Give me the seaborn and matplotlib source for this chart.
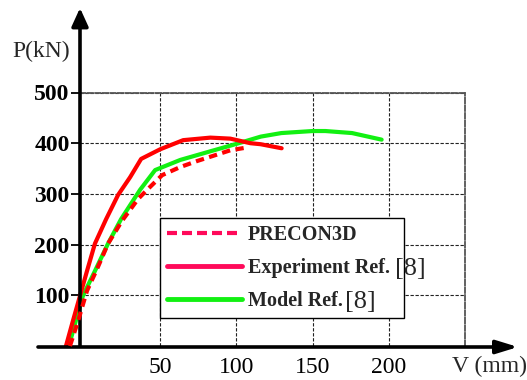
import numpy as np
import pandas as pd
import matplotlib
matplotlib.use("Agg")
import matplotlib.pyplot as plt
import seaborn as sns
from matplotlib.lines import Line2D

# ---- data ----
precon_v = [-9.2, -3.8, 2.0, 8.6, 15.8, 25.0, 35.5, 42.1, 51.3, 63.2, 74.4, 96.0, 107.9]
precon_p = [0, 50, 109, 152, 202, 247, 290, 310, 337, 353, 365, 386, 392]

exp_v = [-11.8, -7.2, -2.6, 2.0, 7.2, 14.5, 22.4, 30.3, 37.5, 50.0, 65.1, 82.9, 96.0, 109.2, 115.9, 129.7]
exp_p = [0, 50, 99, 148, 202, 250, 298, 333, 369, 388, 406, 411, 409, 400, 398, 390]

model_v = [-9.9, -5.3, -0.7, 7.2, 15.8, 24.3, 36.8, 46.7, 63.2, 82.9, 99.3, 116.0, 129.5, 150.0, 158.4, 175.9, 195.3]
model_p = [0, 50, 99, 148, 202, 250, 308, 347, 367, 384, 398, 413, 420, 424, 424, 420, 407]

x_ticks = [50, 100, 150, 200]
y_ticks = [100, 200, 300, 400, 500]
labels = ["PRECON3D", "Experiment Ref.", "Model Ref."]
ref_tag = "[8]"

sns.set_style("white")
plt.rcParams["font.family"] = ["Liberation Serif", "DejaVu Serif"]

RED = "#ff0000"
PINK = "#ff0a5a"
GREEN = "#12f012"

W, H = 527, 380
fig = plt.figure(figsize=(W / 100, H / 100), dpi=100)
ax = fig.add_axes([80 / W, 34 / H, 385 / W, 253.5 / H])

df_pre = pd.DataFrame({"V": precon_v, "P": precon_p})
df_exp = pd.DataFrame({"V": exp_v, "P": exp_p})
df_mod = pd.DataFrame({"V": model_v, "P": model_p})

common = dict(sort=False, estimator=None, ax=ax, lw=3.0, clip_on=False,
              legend=False, solid_joinstyle="round", dash_joinstyle="round")
sns.lineplot(data=df_mod, x="V", y="P", color=GREEN, zorder=3, **common)
sns.lineplot(data=df_exp, x="V", y="P", color=RED, zorder=3, **common)
sns.lineplot(data=df_pre, x="V", y="P", color=RED, linestyle=(0, (2.0, 1.3)),
             zorder=4, **common)

ax.set_xlim(-2.6, 250)
ax.set_ylim(0, 500)
ax.set_xlabel("")
ax.set_ylabel("")
ax.set_xticks(x_ticks)
ax.set_xticklabels([str(t) for t in x_ticks])
ax.set_yticks(y_ticks)
ax.set_yticklabels([str(t) for t in y_ticks], fontweight="bold")

ax.grid(True, color="#222222", linestyle=(0, (3, 1.5)), linewidth=0.8)
ax.set_axisbelow(True)
for s in ["left", "bottom"]:
    ax.spines[s].set_visible(False)
for s in ["top", "right"]:
    ax.spines[s].set_visible(True)
    ax.spines[s].set_color("#555555")
    ax.spines[s].set_linestyle((0, (3, 1.2)))
    ax.spines[s].set_linewidth(1.3)

ax.tick_params(axis="y", which="both", left=True, length=6.5, width=1.3,
               direction="out", pad=1, labelsize=17, colors="black")
ax.tick_params(axis="x", length=0, pad=8, labelsize=17, colors="black")

# axis arrows
ax.annotate("", xy=(80, H - 8), xytext=(80, H - 346),
            xycoords="figure pixels", textcoords="figure pixels",
            arrowprops=dict(arrowstyle="-|>,head_length=11,head_width=5",
                            lw=2.6, color="black", shrinkA=0, shrinkB=0,
                            mutation_scale=1))
ax.annotate("", xy=(518, H - 347), xytext=(38, H - 347),
            xycoords="figure pixels", textcoords="figure pixels",
            arrowprops=dict(arrowstyle="-|>,head_length=13,head_width=4",
                            lw=2.6, color="black", shrinkA=0, shrinkB=0,
                            mutation_scale=1))

fig.text(12 / W, (H - 51) / H, "P(kN)", fontsize=17, ha="left", va="center")
fig.text(452 / W, (H - 366) / H, "V (mm)", fontsize=17, ha="left", va="center")

handles = [
    Line2D([], [], color=PINK, lw=3.0, linestyle=(0, (2.4, 1.2))),
    Line2D([], [], color=PINK, lw=3.5),
    Line2D([], [], color=GREEN, lw=3.5),
]
leg = ax.legend(handles, labels, loc="upper left",
                bbox_to_anchor=(160 / W, (H - 322) / H, 244 / W, 104 / H),
                bbox_transform=fig.transFigure, mode="expand", borderaxespad=0,
                prop={"weight": "bold", "size": 14.5}, handlelength=3.7,
                handletextpad=0.3, borderpad=0.35, labelspacing=0.65,
                frameon=True, fancybox=False, framealpha=1, edgecolor="black")
leg.get_frame().set_linewidth(1.0)
leg.set_zorder(6)

fig.canvas.draw()
r = fig.canvas.get_renderer()
for idx, gap in [(1, 5), (2, 3)]:
    bb = leg.get_texts()[idx].get_window_extent(r)
    ax.annotate(ref_tag, xy=(bb.x1 + gap, (bb.y0 + bb.y1) / 2 - 1),
                xycoords="figure pixels", fontsize=19, ha="left", va="center",
                annotation_clip=False, zorder=7)

fig.savefig("out.png", dpi=100)
